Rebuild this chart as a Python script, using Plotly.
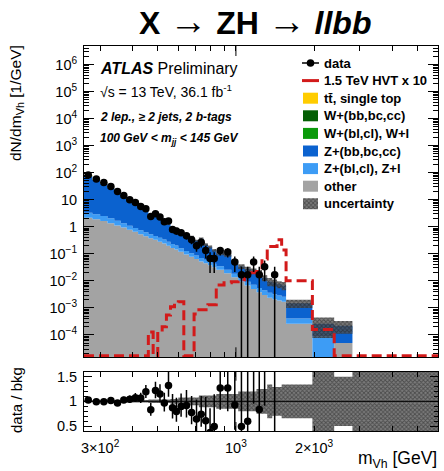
import numpy as np
import plotly.graph_objects as go

# ---------------- data ----------------
bin_edges = [260, 280, 300, 320, 340, 360, 380, 400, 420, 440, 460, 480, 500, 520,
             540, 560, 580, 600, 630, 660, 690, 720, 750, 780, 810, 840, 900, 960,
             1020, 1080, 1140, 1200, 1260, 1320, 1380, 1440, 1500, 1560, 1970, 2390,
             2810, 6000]

data_counts = [1640, 1170, 875, 622, 406, 288, 200, 159, 113, 93, 48, 61, 46, 31, 33, 16, 14,
               18, 14, 10, 6, 8, 4, 2, 2,
               8, 7, 3, 1, 1, 3, 1, 2, 0, 1, 0, 0,
               0, 0, 0, 0]

bkg_other = [2.15, 1.9, 1.65, 1.35, 1.12, 0.95, 0.78, 0.65, 0.53, 0.45, 0.38, 0.33, 0.28, 0.24, 0.20, 0.165, 0.145,
             0.12, 0.095, 0.078, 0.064, 0.052, 0.045, 0.038, 0.032,
             0.026, 0.019, 0.0135, 0.0095, 0.0068, 0.005, 0.0038, 0.003, 0.0024, 0.0021, 0.0019, 0.0017,
             0.00026, 0.0, 0.00005, 0.0]
bkg_z_light = [1.15, 1.0, 0.85, 0.7, 0.55, 0.4, 0.32, 0.26, 0.21, 0.18, 0.15, 0.13, 0.11, 0.10, 0.08, 0.066, 0.058,
               0.042, 0.033, 0.027, 0.022, 0.018, 0.016, 0.013, 0.011,
               0.009, 0.007, 0.005, 0.0035, 0.0025, 0.0022, 0.0017, 0.0015, 0.0012, 0.0011, 0.001, 0.0009,
               0.00015, 0.00009, 0.0, 0.0]
bkg_z_hf = [71.4, 51.9, 38.35, 26.35, 18.26, 12.2, 8.32, 6.41, 4.52, 3.24, 2.36, 2.04, 1.61, 1.26, 0.97, 0.689, 0.677,
            0.508, 0.382, 0.325, 0.224, 0.29, 0.159, 0.129, 0.093,
            0.07, 0.066, 0.0355, 0.021, 0.0187, 0.0168, 0.0145, 0.0085, 0.0059, 0.0056, 0.0046, 0.0042,
            0.00109, 0.00017, 0.00017, 0.0]
bkg_w_light = [0.15, 0.1, 0.08, 0.05, 0.04, 0.03, 0.02, 0.01, 0.01, 0.01] + [0.0] * 31
bkg_w_hf = [0.15, 0.1, 0.07, 0.05, 0.03, 0.02, 0.01, 0.01, 0.0, 0.0] + [0.0] * 31
bkg_ttbar = [5.0, 4.0, 3.0, 2.0, 1.0, 0.4, 0.15, 0.06, 0.03, 0.02, 0.01] + [0.0] * 30

bkg_rel_unc = [0.02] * 5 + [0.025] * 5 + [0.035] * 5 + [0.05, 0.05] + \
              [0.08] * 4 + [0.12] * 4 + \
              [0.15] * 3 + [0.2] * 3 + [0.25, 0.25, 0.34, 0.29, 0.29, 0.34] + \
              [0.34, 0.7, 0.5, 0.0]

signal_hvt_x10 = [0.0] * 10 + [1.3e-4, 0.0, 1.3e-4, 2.0e-4, 5.5e-4, 1.1e-3, 1.5e-3,
                               1.7e-3, 0.0, 0.0, 6.0e-4, 8.5e-4, 8.5e-4, 1.3e-3, 1.3e-3,
                               7.1e-3, 8.5e-3, 9.2e-3, 0.011, 0.0145, 0.02, 0.022, 0.065, 0.187, 0.187, 0.33, 0.14,
                               0.0101, 1.6e-4, 0.0, 0.0]

x_label_vals = [300, 1000, 2000]
x_label_text = ["3×10<sup>2</sup>", "10<sup>3</sup>", "2×10<sup>3</sup>"]
x_minor_vals = [400, 500, 600, 700, 800, 900, 3000, 4000, 5000, 6000]
y_tick_vals = [1e-4, 1e-3, 1e-2, 1e-1, 1, 10, 1e2, 1e3, 1e4, 1e5, 1e6]
y_tick_text = ["10<sup>−4</sup>", "10<sup>−3</sup>", "10<sup>−2</sup>", "10<sup>−1</sup>", "1", "10",
               "10<sup>2</sup>", "10<sup>3</sup>", "10<sup>4</sup>", "10<sup>5</sup>", "10<sup>6</sup>"]
r_tick_vals = [0.5, 1.0, 1.5]
r_tick_text = ["0.5", "1", "1.5"]

legend_labels = ["data", "1.5 TeV HVT x 10", "tt\u0304, single top", "W+(bb,bc,cc)", "W+(bl,cl), W+l",
                 "Z+(bb,bc,cc)", "Z+(bl,cl), Z+l", "other", "uncertainty"]

# ---------------- layout constants ----------------
W, H = 444, 471
ML, MR, MT, MB = 84, 6, 46, 40
PW, PH = W - ML - MR, H - MT - MB
FONT = "Liberation Sans"
MAIN_BOT = 357.3


def pxx(px):
    return (px - ML) / PW


def pxy(py):
    return (H - MB - py) / PH


main_dom = [pxy(MAIN_BOT), 1.0]
ratio_dom = [0.0, pxy(371.7)]
XR = [np.log10(260), np.log10(6000)]
YR = [-4.826, 6.685]
RR = [0.4, 1.6]


def px_to_logx(px):
    return 10 ** (XR[0] + (px - ML) / PW * (XR[1] - XR[0]))


def px_to_logy(py):
    return 10 ** (YR[0] + (MAIN_BOT - py) / (MAIN_BOT - MT) * (YR[1] - YR[0]))


C_OTHER = "#a3a3a3"
C_ZL = "#3d9cf5"
C_ZHF = "#0b62cf"
C_WL = "#0a9a0a"
C_WHF = "#045f04"
C_TT = "#ffcc00"
C_SIG = "#d21a1a"
HATCH = dict(shape="x", size=3, solidity=0.5, fgcolor="#1a1a1a", bgcolor="rgba(80,80,80,0.75)")
HATCH_FILL = "rgba(80,80,80,0.75)"

e = np.array(bin_edges, float)
lo, hi = e[:-1], e[1:]
cen = 0.5 * (lo + hi)
wid = hi - lo
nb = len(lo)
FLOOR = 1e-12


def stepy(v):
    v = np.asarray(v, float)
    return np.r_[v, v[-1]]


fig = go.Figure()

# ---------------- stacked background ----------------
fig.add_trace(go.Scatter(x=e, y=stepy(np.full(nb, FLOOR)), mode="lines",
                         line=dict(width=0, shape="hv"), hoverinfo="skip", showlegend=False))
cum = np.zeros(nb)
for vals, col in [(bkg_other, C_OTHER), (bkg_z_light, C_ZL), (bkg_z_hf, C_ZHF),
                  (bkg_w_light, C_WL), (bkg_w_hf, C_WHF), (bkg_ttbar, C_TT)]:
    cum = cum + np.asarray(vals, float)
    yy = np.maximum(cum, FLOOR)
    fig.add_trace(go.Scatter(x=e, y=stepy(yy), mode="lines", line=dict(width=0, shape="hv", color=col),
                             fill="tonexty", fillcolor=col, hoverinfo="skip", showlegend=False))
total = cum.copy()
rel = np.asarray(bkg_rel_unc, float)

# uncertainty band (main)
band_up = np.where(total > 0, total * (1 + rel), FLOOR)
band_dn = np.where(total > 0, np.maximum(total * (1 - rel), FLOOR), FLOOR)
fig.add_trace(go.Scatter(x=e, y=stepy(band_dn), mode="lines", line=dict(width=0, shape="hv"),
                         hoverinfo="skip", showlegend=False))
fig.add_trace(go.Scatter(x=e, y=stepy(band_up), mode="lines", line=dict(width=0, shape="hv"),
                         fill="tonexty", fillpattern=HATCH, fillcolor=HATCH_FILL,
                         hoverinfo="skip", showlegend=False))

# signal
sig = np.asarray(signal_hvt_x10, float)
sig_draw = np.where(sig > 0, sig, 10 ** (YR[0] + 0.06))
fig.add_trace(go.Scatter(x=e, y=stepy(sig_draw), mode="lines",
                         line=dict(width=3, shape="hv", color=C_SIG, dash="10px,5px"),
                         hoverinfo="skip", showlegend=False))

# data (main)
n = np.asarray(data_counts, float)
has = n > 0
dval = n / wid
d_lo = np.maximum((n - np.sqrt(n)) / wid, 10 ** YR[0])
d_hi = (n + np.sqrt(n)) / wid
ex, ey = [], []
for i in np.where(has)[0]:
    ex += [cen[i], cen[i], None]
    ey += [d_lo[i], d_hi[i], None]
fig.add_trace(go.Scatter(x=ex, y=ey, mode="lines", line=dict(color="black", width=1.5),
                         hoverinfo="skip", showlegend=False))
fig.add_trace(go.Scatter(x=cen[has], y=dval[has], mode="markers",
                         marker=dict(color="black", size=7.5), hoverinfo="skip", showlegend=False))

# ---------------- ratio panel ----------------
r_up = np.where(total > 0, 1 + rel, 5.0)
r_dn = np.where(total > 0, 1 - rel, -3.0)
fig.add_trace(go.Scatter(x=e, y=stepy(r_dn), mode="lines", line=dict(width=0, shape="hv"),
                         xaxis="x2", yaxis="y2", hoverinfo="skip", showlegend=False))
fig.add_trace(go.Scatter(x=e, y=stepy(r_up), mode="lines", line=dict(width=0, shape="hv"),
                         fill="tonexty", fillpattern=HATCH, fillcolor=HATCH_FILL,
                         xaxis="x2", yaxis="y2", hoverinfo="skip", showlegend=False))
fig.add_trace(go.Scatter(x=[e[0], e[-1]], y=[1, 1], mode="lines", line=dict(color="black", width=1),
                         xaxis="x2", yaxis="y2", hoverinfo="skip", showlegend=False))
ok = has & (total > 0)
nn = np.where(ok, n, 1.0)
g_lo = nn * (1 - 1 / (9 * nn) - 1 / (3 * np.sqrt(nn))) ** 3
g_hi = nn + np.sqrt(nn + 0.75) + 1
tt = np.where(total > 0, total, 1.0)
ratio = dval / tt
rlo = g_lo / wid / tt
rhi = g_hi / wid / tt
rx, ry = [], []
for i in np.where(ok)[0]:
    rx += [cen[i], cen[i], None]
    ry += [rlo[i], rhi[i], None]
fig.add_trace(go.Scatter(x=rx, y=ry, mode="lines", line=dict(color="black", width=1.5),
                         xaxis="x2", yaxis="y2", hoverinfo="skip", showlegend=False))
fig.add_trace(go.Scatter(x=cen[ok], y=ratio[ok], mode="markers", marker=dict(color="black", size=7.5),
                         xaxis="x2", yaxis="y2", hoverinfo="skip", showlegend=False))

# ---------------- legend (drawn by hand, ROOT style) ----------------
leg_y0, leg_dy = 63.0, 17.6
lx0, lx1 = 303, 318
annos, shapes = [], []
for k, lab in enumerate(legend_labels):
    yc = leg_y0 + k * leg_dy
    if k == 0:
        shapes.append(dict(type="line", xref="paper", yref="paper", x0=pxx(lx0 - 1), x1=pxx(lx1 + 1),
                           y0=pxy(yc), y1=pxy(yc), line=dict(color="black", width=1.5)))
        shapes.append(dict(type="circle", xref="paper", yref="paper", xsizemode="pixel", ysizemode="pixel",
                           xanchor=pxx((lx0 + lx1) / 2), yanchor=pxy(yc), x0=-3.8, x1=3.8, y0=-3.8, y1=3.8,
                           fillcolor="black", line=dict(color="black", width=0)))
    elif k == 1:
        shapes.append(dict(type="line", xref="paper", yref="paper", x0=pxx(lx0 - 1), x1=pxx(lx1 + 1),
                           y0=pxy(yc), y1=pxy(yc), line=dict(color=C_SIG, width=3)))
    else:
        col = [C_TT, C_WHF, C_WL, C_ZHF, C_ZL, C_OTHER, None][k - 2]
        if col is None:
            bx = [px_to_logx(v) for v in (lx0, lx1, lx1, lx0, lx0)]
            by = [px_to_logy(v) for v in (yc - 5.5, yc - 5.5, yc + 5.5, yc + 5.5, yc - 5.5)]
            fig.add_trace(go.Scatter(x=bx, y=by, mode="lines", line=dict(width=0), fill="toself",
                                     fillpattern=HATCH, fillcolor=HATCH_FILL,
                                     hoverinfo="skip", showlegend=False))
        else:
            shapes.append(dict(type="rect", xref="paper", yref="paper", x0=pxx(lx0), x1=pxx(lx1),
                               y0=pxy(yc + 5.5), y1=pxy(yc - 5.5), fillcolor=col, line=dict(width=0)))
    annos.append(dict(x=pxx(322), y=pxy(yc), xref="paper", yref="paper", text="<b>" + lab + "</b>",
                      showarrow=False, xanchor="left", yanchor="middle",
                      font=dict(family=FONT, size=13, color="black")))

# ---------------- texts ----------------
annos += [
    dict(x=pxx(255), y=pxy(21), xref="paper", yref="paper", showarrow=False, xanchor="center", yanchor="middle",
         text='<b>X <span style="font-size:38px">→</span> ZH <span style="font-size:38px">→</span> <i>llbb</i></b>',
         font=dict(family=FONT, size=32, color="black")),
    dict(x=pxx(98), y=pxy(68), xref="paper", yref="paper", showarrow=False, xanchor="left", yanchor="middle",
         text="<b><i>ATLAS</i></b> Preliminary", font=dict(family=FONT, size=16, color="black")),
    dict(x=pxx(98), y=pxy(91), xref="paper", yref="paper", showarrow=False, xanchor="left", yanchor="middle",
         text="√s = 13 TeV, 36.1 fb<sup>-1</sup>", font=dict(family=FONT, size=14, color="black")),
    dict(x=pxx(98), y=pxy(117), xref="paper", yref="paper", showarrow=False, xanchor="left", yanchor="middle",
         text="<b><i>2 lep., ≥ 2 jets, 2 b-tags</i></b>", font=dict(family=FONT, size=12, color="black")),
    dict(x=pxx(98), y=pxy(139), xref="paper", yref="paper", showarrow=False, xanchor="left", yanchor="middle",
         text="<b><i>100 GeV &lt; m<sub>jj</sub> &lt; 145 GeV</i></b>", font=dict(family=FONT, size=12, color="black")),
    dict(x=pxx(16), y=pxy(103), xref="paper", yref="paper", showarrow=False, xanchor="center", yanchor="middle",
         textangle=-90, text="dN/dm<sub>Vh</sub> [1/GeV]", font=dict(family=FONT, size=15.5, color="black")),
    dict(x=pxx(16), y=pxy(400), xref="paper", yref="paper", showarrow=False, xanchor="center", yanchor="middle",
         textangle=-90, text="data / bkg", font=dict(family=FONT, size=15, color="black")),
    dict(x=pxx(439), y=pxy(460), xref="paper", yref="paper", showarrow=False, xanchor="right", yanchor="middle",
         text="m<sub>Vh</sub> [GeV]", font=dict(family=FONT, size=17.5, color="black")),
]

# long tick at 10^3 (bottom/top of both panels)
for (y0, y1) in [(main_dom[0], main_dom[0] + 10 / PH), (main_dom[1] - 10 / PH, main_dom[1]),
                 (ratio_dom[0], ratio_dom[0] + 9 / PH), (ratio_dom[1] - 9 / PH, ratio_dom[1])]:
    shapes.append(dict(type="line", xref="x", yref="paper", x0=1000, x1=1000, y0=y0, y1=y1,
                       line=dict(color="black", width=1)))

y_minor = [m * 10.0 ** k for k in range(-5, 7) for m in range(2, 10)
           if YR[0] < np.log10(m * 10.0 ** k) < YR[1]]
r_minor = [v for v in np.round(np.arange(0.4, 1.61, 0.1), 2) if v not in (0.5, 1.0, 1.5)]

axis_common = dict(showline=True, linecolor="black", linewidth=1, mirror="ticks", ticks="inside",
                   tickcolor="black", showgrid=False, zeroline=False,
                   tickfont=dict(family=FONT, size=14.5, color="black"))
x_minor = dict(tickvals=x_minor_vals, ticklen=5, ticks="inside", tickcolor="black")

fig.update_layout(
    width=W, height=H,
    margin=dict(l=ML, r=MR, t=MT, b=MB, autoexpand=False),
    paper_bgcolor="white", plot_bgcolor="white",
    showlegend=False, hovermode=False,
    xaxis=dict(type="log", range=XR, domain=[0, 1], anchor="y", tickvals=x_label_vals, ticktext=x_label_text,
               showticklabels=False, ticklen=5, minor=x_minor, **axis_common),
    yaxis=dict(type="log", range=YR, domain=main_dom, anchor="x", tickvals=y_tick_vals, ticktext=y_tick_text,
               ticklen=10, ticklabelstandoff=3,
               minor=dict(tickvals=y_minor, ticklen=5, ticks="inside", tickcolor="black"), **axis_common),
    xaxis2=dict(type="log", range=XR, domain=[0, 1], anchor="y2", tickvals=x_label_vals, ticktext=x_label_text,
                ticklen=5, ticklabelstandoff=4, minor=x_minor, **axis_common),
    yaxis2=dict(range=RR, domain=ratio_dom, anchor="x2", tickvals=r_tick_vals, ticktext=r_tick_text,
                ticklen=8, ticklabelstandoff=3,
                minor=dict(tickvals=r_minor, ticklen=4, ticks="inside", tickcolor="black"), **axis_common),
    annotations=annos,
    shapes=shapes,
)

fig.write_html("out.html")
